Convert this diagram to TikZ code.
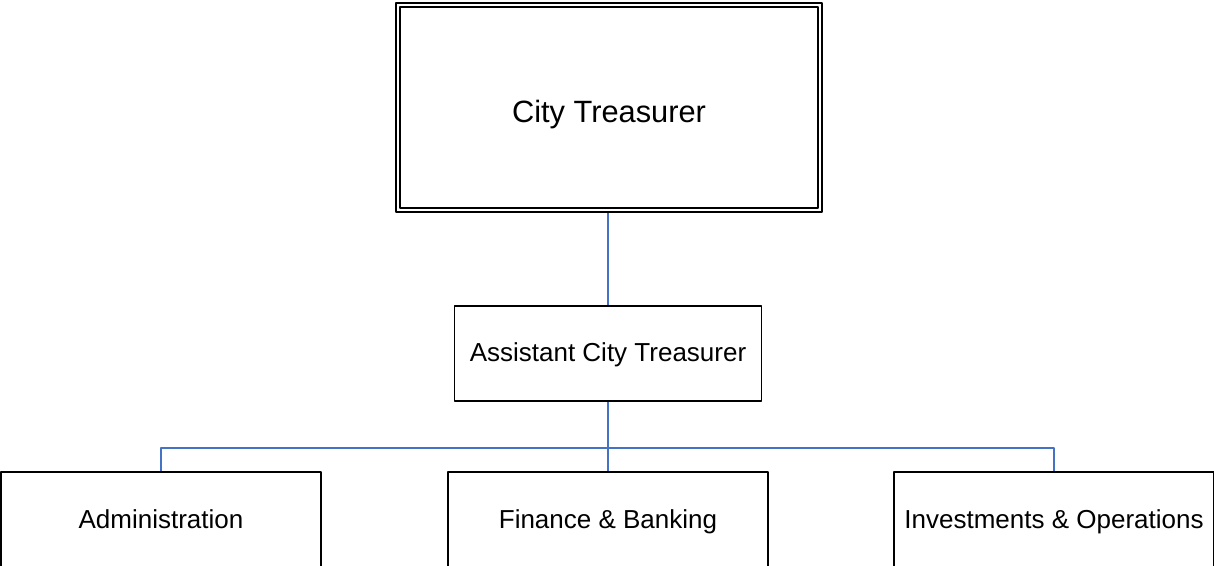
\documentclass[tikz,border=0pt]{standalone}
\usepackage{fontspec}
\setmainfont{Liberation Sans}
\definecolor{linkblue}{HTML}{4472C4}
\begin{document}
\begin{tikzpicture}[x=1pt, y=-1pt, line join=round,
	box/.style={draw, line width=1.3pt, inner sep=0pt, text height=16pt, text depth=0pt, font=\fontsize{26}{30}\selectfont},
	link/.style={draw=linkblue, line width=1.3pt}]
	\useasboundingbox (0,0) rectangle (1214,565);
	\clip (0,0) rectangle (1214,565);
	% top of the chart
	\node[box, line width=2pt, minimum width=426pt, minimum height=209pt, text height=29pt, font=\fontsize{30.8}{36}\selectfont] (treasurer) at (609,107.5) {City Treasurer};
	\draw[line width=1.2pt] ([shift={(5pt,-5pt)}]treasurer.north west) rectangle ([shift={(-5pt,5pt)}]treasurer.south east);
	\node[box, minimum width=307pt, minimum height=95pt] (assistant) at (608,353.5) {Assistant City Treasurer};
	% divisions
	\node[box, minimum width=320pt, minimum height=96pt] (admin) at (161,520) {Administration};
	\node[box, minimum width=320pt, minimum height=96pt] (finance) at (608,520) {Finance \& Banking};
	\node[box, minimum width=320pt, minimum height=96pt] (invest) at (1054,520) {Investments \& Operations};
	\coordinate (bus) at (608,448);
	\draw[link] (assistant.north |- treasurer.south) -- (assistant.north);
	\draw[link, line width=2pt] (assistant.south) -- (bus);
	\draw[link] (admin.north) |- (bus) -| (invest.north);
	\draw[link] (bus) -- (bus |- finance.north);
\end{tikzpicture}
\end{document}
